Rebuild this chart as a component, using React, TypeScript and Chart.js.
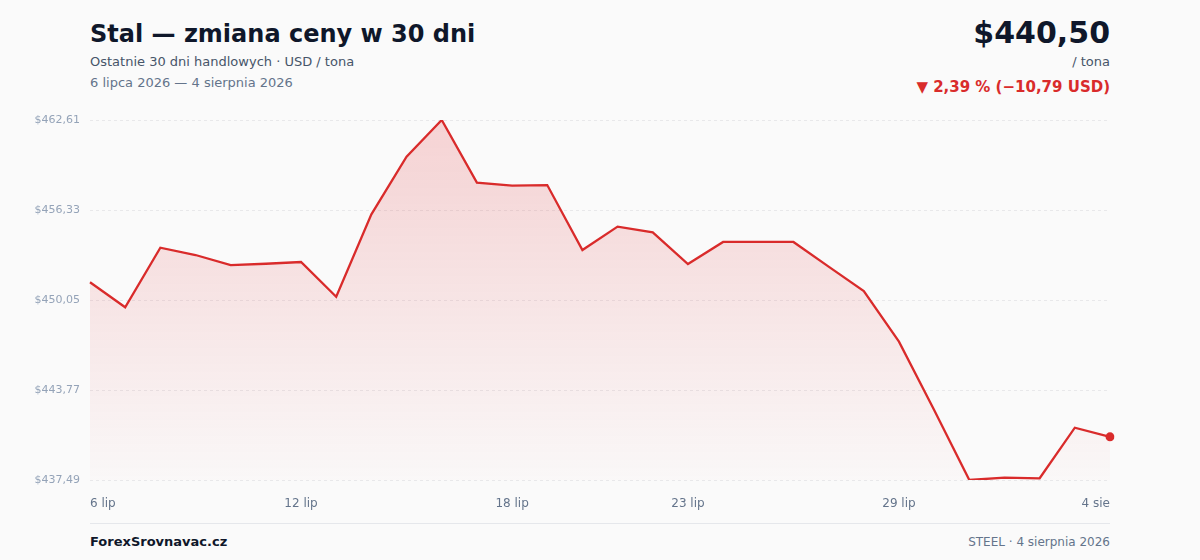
import React, { useEffect, useRef } from "react";
import { Chart, registerables } from "chart.js";

Chart.register(...registerables);

const categories = [
  "6 lip", "7 lip", "8 lip", "9 lip", "10 lip", "11 lip", "12 lip", "13 lip", "14 lip", "15 lip",
  "16 lip", "17 lip", "18 lip", "19 lip", "20 lip", "21 lip", "22 lip", "23 lip", "24 lip", "25 lip",
  "26 lip", "27 lip", "28 lip", "29 lip", "30 lip", "31 lip", "1 sie", "2 sie", "3 sie", "4 sie",
];

const prices = [
  451.29, 449.54, 453.70, 453.19, 452.49, 452.58, 452.70, 450.28, 456.03, 460.05,
  462.61, 458.24, 458.03, 458.07, 453.54, 455.17, 454.77, 452.56, 454.10, 454.10,
  454.10, 452.38, 450.68, 447.14, 442.37, 437.49, 437.65, 437.61, 441.14, 440.50,
];

const xTickLabels = ["6 lip", "12 lip", "18 lip", "23 lip", "29 lip", "4 sie"];
const yTickValues = [437.49, 443.77, 450.05, 456.33, 462.61];

const FONT = "'DejaVu Sans', sans-serif";
const RED = "#d92b2b";

function fmtUsd(v: number): string {
  return "$" + v.toFixed(2).replace(".", ",");
}

export default function App() {
  const canvasRef = useRef<HTMLCanvasElement | null>(null);

  useEffect(() => {
    document.body.style.margin = "0";
    document.body.style.background = "#fafafa";
    const canvas = canvasRef.current;
    if (!canvas) return;
    const last = prices.length - 1;
    const chart = new Chart(canvas, {
      type: "line",
      data: {
        labels: categories,
        datasets: [
          {
            data: prices,
            borderColor: RED,
            borderWidth: 2.3,
            tension: 0,
            fill: "start",
            backgroundColor: (ctx: any) => {
              const area = ctx.chart.chartArea;
              if (!area) return "rgba(220,38,38,0.1)";
              const g = ctx.chart.ctx.createLinearGradient(0, area.top, 0, area.bottom);
              g.addColorStop(0, "rgba(225,40,45,0.19)");
              g.addColorStop(1, "rgba(225,40,45,0.01)");
              return g;
            },
            pointRadius: (ctx: any) => (ctx.dataIndex === last ? 4.5 : 0),
            pointBackgroundColor: RED,
            pointBorderColor: RED,
            pointBorderWidth: 0,
            pointHoverRadius: 0,
          },
        ],
      },
      options: {
        animation: false,
        responsive: false,
        maintainAspectRatio: false,
        layout: { padding: { left: 0, right: 90, top: 20, bottom: 0 } },
        plugins: { legend: { display: false }, tooltip: { enabled: false } },
        scales: {
          x: {
            type: "category",
            offset: false,
            grid: { display: false, drawTicks: false },
            border: { display: false },
            ticks: {
              autoSkip: false,
              maxRotation: 0,
              minRotation: 0,
              align: "inner",
              padding: 17,
              color: "#64748b",
              font: { family: FONT, size: 12 },
              callback: (_v: any, i: number) =>
                xTickLabels.includes(categories[i]) ? categories[i] : null,
            },
            afterFit: (scale: any) => {
              scale.height = 40;
            },
          },
          y: {
            min: yTickValues[0],
            max: yTickValues[yTickValues.length - 1],
            grid: { color: "#e8e8ea", drawTicks: false, lineWidth: 1 },
            border: { display: false, dash: [3, 3] },
            afterBuildTicks: (scale: any) => {
              scale.ticks = yTickValues.map((v) => ({ value: v }));
            },
            ticks: {
              padding: 10,
              color: "#94a3b8",
              font: { family: FONT, size: 11 },
              callback: (v: any) => fmtUsd(Number(v)),
            },
            afterFit: (scale: any) => {
              scale.width = 90;
            },
          },
        },
      },
    });
    return () => chart.destroy();
  }, []);

  const abs = (top: number, size: number, extra: React.CSSProperties = {}): React.CSSProperties => ({
    position: "absolute",
    top,
    fontSize: size,
    lineHeight: size + "px",
    fontFamily: FONT,
    whiteSpace: "nowrap",
    margin: 0,
    ...extra,
  });

  return (
    <div style={{ position: "relative", width: 1200, height: 560, background: "#fafafa", overflow: "hidden" }}>
      <div style={abs(22, 24, { left: 90, fontWeight: 700, color: "#0f172a" })}>Stal — zmiana ceny w 30 dni</div>
      <div style={abs(55, 13, { left: 90, color: "#475569" })}>Ostatnie 30 dni handlowych · USD / tona</div>
      <div style={abs(76, 13, { left: 90, color: "#64748b" })}>6 lipca 2026 — 4 sierpnia 2026</div>

      <div style={abs(18, 30, { right: 90, fontWeight: 700, color: "#0f172a" })}>{fmtUsd(prices[prices.length - 1])}</div>
      <div style={abs(55, 13, { right: 90, color: "#475569" })}>/ tona</div>
      <div style={abs(80, 15, { right: 90, fontWeight: 700, color: RED })}>▼ 2,39 % (−10,79 USD)</div>

      <canvas
        ref={canvasRef}
        width={1200}
        height={420}
        style={{ position: "absolute", left: 0, top: 100, width: 1200, height: 420 }}
      />

      <div style={{ position: "absolute", left: 90, width: 1020, top: 523, height: 1, background: "#e5e7eb" }} />
      <div style={abs(535, 13, { left: 90, fontWeight: 700, color: "#0f172a" })}>ForexSrovnavac.cz</div>
      <div style={abs(536, 12, { right: 90, color: "#64748b" })}>STEEL · 4 sierpnia 2026</div>
    </div>
  );
}
